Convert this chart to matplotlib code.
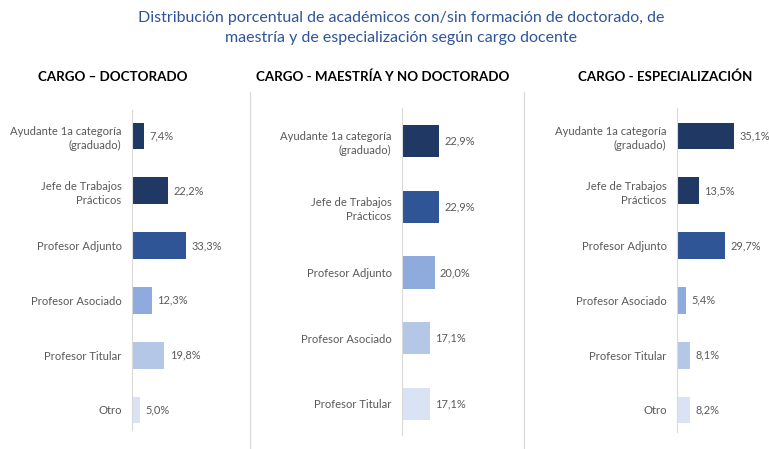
import matplotlib
matplotlib.use("Agg")
import matplotlib.pyplot as plt
from matplotlib.lines import Line2D

plt.rcParams['font.family'] = ['Lato', 'DejaVu Sans']

# data
cats_doc = ["Ayudante 1a categoría\n(graduado)", "Jefe de Trabajos\nPrácticos", "Profesor Adjunto",
            "Profesor Asociado", "Profesor Titular", "Otro"]
vals_doc = [7.4, 22.2, 33.3, 12.3, 19.8, 5.0]

cats_mae = ["Ayudante 1a categoría\n(graduado)", "Jefe de Trabajos\nPrácticos", "Profesor Adjunto",
            "Profesor Asociado", "Profesor Titular"]
vals_mae = [22.9, 22.9, 20.0, 17.1, 17.1]

cats_esp = ["Ayudante 1a categoría\n(graduado)", "Jefe de Trabajos\nPrácticos", "Profesor Adjunto",
            "Profesor Asociado", "Profesor Titular", "Otro"]
vals_esp = [35.1, 13.5, 29.7, 5.4, 8.1, 8.2]

panel_titles = ["CARGO – DOCTORADO", "CARGO - MAESTRÍA Y NO DOCTORADO", "CARGO - ESPECIALIZACIÓN"]

colors_doc = ["#1F3864", "#203864", "#2F5597", "#8FAADC", "#B4C7E7", "#DAE3F3"]
colors_mae = ["#1F3864", "#2F5597", "#8FAADC", "#B4C7E7", "#DAE3F3"]
colors_esp = ["#1F3864", "#203864", "#2F5597", "#8FAADC", "#B4C7E7", "#DAE3F3"]

W, H = 769, 449
fig = plt.figure(figsize=(W / 100, H / 100), dpi=100)
fig.patch.set_facecolor("white")

gray = "#595959"
px_per_pct = 1.63


def make_panel(x0, top, bottom, first_c, spacing, cats, vals, colors, title, title_x):
    width_px = 90
    ax = fig.add_axes([x0 / W, 1 - bottom / H, width_px / W, (bottom - top) / H])
    n = len(cats)
    ylo = -(first_c - top) / spacing
    yhi = (bottom - first_c) / spacing
    pos = list(range(n))
    ax.barh(pos, vals, height=0.49, color=colors)
    ax.set_ylim(yhi, ylo)
    ax.set_xlim(0, width_px / px_per_pct)
    ax.set_yticks(pos)
    ax.set_yticklabels(cats, fontsize=8.1, color=gray, linespacing=1.35, ha="right")
    ax.tick_params(axis="y", length=0, pad=7.5)
    ax.set_xticks([])
    for s in ["top", "right", "bottom"]:
        ax.spines[s].set_visible(False)
    ax.spines["left"].set_color("#D9D9D9")
    ax.spines["left"].set_linewidth(0.8)
    ax.patch.set_alpha(0)
    for p, v in zip(pos, vals):
        ax.annotate(f"{v:.1f}%".replace(".", ","), (v, p), xytext=(3.8, 0), textcoords="offset points",
                    ha="left", va="center", fontsize=7.9, color=gray, annotation_clip=False)
    fig.text(title_x / W, 1 - 77 / H, title, ha="center", va="center", fontsize=9.6,
             fontweight="bold", color="black")
    return ax


make_panel(132, 110, 430, 136, 54.8, cats_doc, vals_doc, colors_doc, panel_titles[0], 113)
make_panel(402, 108, 435, 141, 65.75, cats_mae, vals_mae, colors_mae, panel_titles[1], 383)
make_panel(677, 108, 432, 136, 54.8, cats_esp, vals_esp, colors_esp, panel_titles[2], 665)

# separators
for xs in [250, 524]:
    fig.add_artist(Line2D([xs / W, xs / W], [0, 1 - 92 / H], color="#D9D9D9", linewidth=0.9))

fig.text(401 / W, 1 - 18 / H, "Distribución porcentual de académicos con/sin formación de doctorado, de",
         ha="center", va="center", fontsize=11.5, color="#2F5597")
fig.text(401 / W, 1 - 38 / H, "maestría y de especialización según cargo docente",
         ha="center", va="center", fontsize=11.5, color="#2F5597")

fig.savefig("out.png", dpi=100)
